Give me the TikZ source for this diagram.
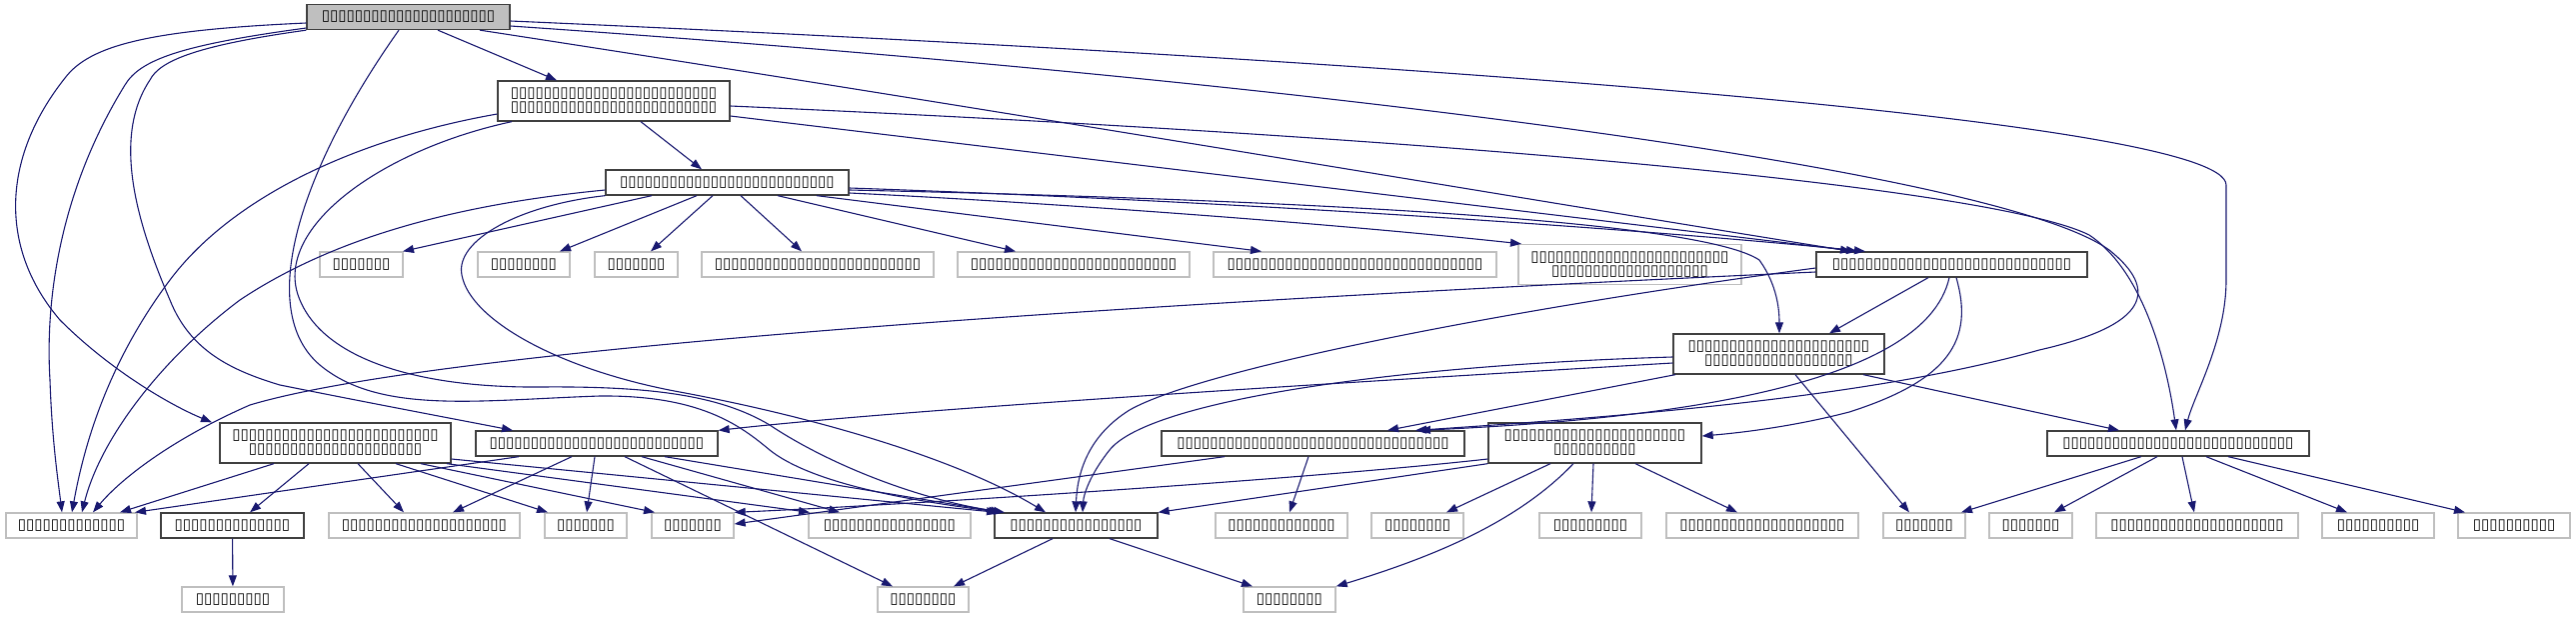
\documentclass[tikz,border=0pt]{standalone}
\usepackage{fontspec}
\newfontfamily\tofu{DejaVu Sans}
\usetikzlibrary{arrows.meta}
\definecolor{edgeblue}{HTML}{191970}
\definecolor{boxgray}{HTML}{404040}
\definecolor{leafgray}{HTML}{BFBFBF}
\definecolor{rootgray}{HTML}{BFBFBF}
\begin{document}
\begin{tikzpicture}[x=1pt,y=-1pt,
    hdr/.style={draw=boxgray,line width=1.3pt,fill=white,inner sep=0pt,minimum height=25pt,
        align=center,font=\tofu\fontsize{15}{14}\selectfont},
    hdr2/.style={hdr,minimum height=40pt},
    sys/.style={hdr,draw=leafgray},
    sys2/.style={hdr2,draw=leafgray},
    focus/.style={hdr,fill=rootgray},
    inc/.style={draw=edgeblue,line width=1.1pt,-{Triangle[length=11pt,width=8pt]}}]
    \useasboundingbox (0,0) rectangle (2577,619);

    % headers
    \node[focus,minimum width=203pt] (main) at (408.5,17) {▯▯▯▯▯▯▯▯▯▯▯▯▯▯▯▯▯▯▯▯▯};
    \node[hdr2,minimum width=232pt] (hA) at (614,101) {▯▯▯▯▯▯▯▯▯▯▯▯▯▯▯▯▯▯▯▯▯▯▯▯▯\\▯▯▯▯▯▯▯▯▯▯▯▯▯▯▯▯▯▯▯▯▯▯▯▯▯};
    \node[hdr,minimum width=243pt] (hB) at (727.5,182.5) {▯▯▯▯▯▯▯▯▯▯▯▯▯▯▯▯▯▯▯▯▯▯▯▯▯▯};
    \node[hdr,minimum width=271pt] (hC) at (1952.5,264.5) {▯▯▯▯▯▯▯▯▯▯▯▯▯▯▯▯▯▯▯▯▯▯▯▯▯▯▯▯▯};
    \node[hdr2,minimum width=211pt] (hD) at (1779.5,354) {▯▯▯▯▯▯▯▯▯▯▯▯▯▯▯▯▯▯▯▯▯▯\\▯▯▯▯▯▯▯▯▯▯▯▯▯▯▯▯▯▯};
    \node[hdr2,minimum width=231pt] (hE) at (335.5,443) {▯▯▯▯▯▯▯▯▯▯▯▯▯▯▯▯▯▯▯▯▯▯▯▯▯\\▯▯▯▯▯▯▯▯▯▯▯▯▯▯▯▯▯▯▯▯▯};
    \node[hdr,minimum width=242pt] (hF) at (597,443.5) {▯▯▯▯▯▯▯▯▯▯▯▯▯▯▯▯▯▯▯▯▯▯▯▯▯▯};
    \node[hdr,minimum width=303pt] (hG) at (1313.5,443.5) {▯▯▯▯▯▯▯▯▯▯▯▯▯▯▯▯▯▯▯▯▯▯▯▯▯▯▯▯▯▯▯▯▯};
    \node[hdr2,minimum width=213pt] (hH) at (1595.5,443) {▯▯▯▯▯▯▯▯▯▯▯▯▯▯▯▯▯▯▯▯▯▯\\▯▯▯▯▯▯▯▯▯▯};
    \node[hdr,minimum width=262pt] (hI) at (2179,443.5) {▯▯▯▯▯▯▯▯▯▯▯▯▯▯▯▯▯▯▯▯▯▯▯▯▯▯▯▯};
    \node[hdr,minimum width=143pt] (hJ) at (232.5,525.5) {▯▯▯▯▯▯▯▯▯▯▯▯▯▯};
    \node[hdr,minimum width=163pt] (hK) at (1076.5,525.5) {▯▯▯▯▯▯▯▯▯▯▯▯▯▯▯▯};

    % system headers
    \node[sys,minimum width=83pt] (s1) at (361.5,264.5) {▯▯▯▯▯▯▯};
    \node[sys,minimum width=92pt] (s2) at (524,264.5) {▯▯▯▯▯▯▯▯};
    \node[sys,minimum width=83pt] (s3) at (636.5,264.5) {▯▯▯▯▯▯▯};
    \node[sys,minimum width=232pt] (s4) at (818,264.5) {▯▯▯▯▯▯▯▯▯▯▯▯▯▯▯▯▯▯▯▯▯▯▯▯▯};
    \node[sys,minimum width=232pt] (s5) at (1074,264.5) {▯▯▯▯▯▯▯▯▯▯▯▯▯▯▯▯▯▯▯▯▯▯▯▯▯};
    \node[sys,minimum width=283pt] (s6) at (1355.5,264.5) {▯▯▯▯▯▯▯▯▯▯▯▯▯▯▯▯▯▯▯▯▯▯▯▯▯▯▯▯▯▯▯};
    \node[sys2,minimum width=223pt] (s7) at (1630.5,264.5) {▯▯▯▯▯▯▯▯▯▯▯▯▯▯▯▯▯▯▯▯▯▯▯▯\\▯▯▯▯▯▯▯▯▯▯▯▯▯▯▯▯▯▯▯};
    \node[sys,minimum width=131pt] (r1) at (71.5,525.5) {▯▯▯▯▯▯▯▯▯▯▯▯▯};
    \node[sys,minimum width=191pt] (r3) at (424.5,525.5) {▯▯▯▯▯▯▯▯▯▯▯▯▯▯▯▯▯▯▯▯};
    \node[sys,minimum width=82pt] (r4) at (586,525.5) {▯▯▯▯▯▯▯};
    \node[sys,minimum width=82pt] (r5) at (693,525.5) {▯▯▯▯▯▯▯};
    \node[sys,minimum width=162pt] (r6) at (890,525.5) {▯▯▯▯▯▯▯▯▯▯▯▯▯▯▯▯};
    \node[sys,minimum width=132pt] (r8) at (1282,525.5) {▯▯▯▯▯▯▯▯▯▯▯▯▯};
    \node[sys,minimum width=92pt] (r9) at (1418,525.5) {▯▯▯▯▯▯▯▯};
    \node[sys,minimum width=102pt] (r10) at (1591,525.5) {▯▯▯▯▯▯▯▯▯};
    \node[sys,minimum width=192pt] (r11) at (1763,525.5) {▯▯▯▯▯▯▯▯▯▯▯▯▯▯▯▯▯▯▯▯};
    \node[sys,minimum width=82pt] (r12) at (1925,525.5) {▯▯▯▯▯▯▯};
    \node[sys,minimum width=83pt] (r13) at (2031.5,525.5) {▯▯▯▯▯▯▯};
    \node[sys,minimum width=202pt] (r14) at (2198,525.5) {▯▯▯▯▯▯▯▯▯▯▯▯▯▯▯▯▯▯▯▯▯};
    \node[sys,minimum width=112pt] (r15) at (2379,525.5) {▯▯▯▯▯▯▯▯▯▯};
    \node[sys,minimum width=112pt] (r16) at (2515,525.5) {▯▯▯▯▯▯▯▯▯▯};
    \node[sys,minimum width=102pt] (t1) at (233,599.5) {▯▯▯▯▯▯▯▯▯};
    \node[sys,minimum width=91pt] (t2) at (923.5,599.5) {▯▯▯▯▯▯▯▯};
    \node[sys,minimum width=92pt] (t3) at (1290,599.5) {▯▯▯▯▯▯▯▯};

    % from the file itself
    \draw[inc] (main.south -| 438,0) -- (hA.north -| 557,0);
    \draw[inc] (main.south -| 480,0) .. controls (1000,110) and (1500,195) .. (hC.north -| 1852,0);
    \draw[inc] (main.east |- 0,21) .. controls (1400,60) and (2227,120) .. (2227,185) -- (2227,280)
        .. controls (2227,340) and (2195,395) .. (hI.north -| 2186,0);
    \draw[inc] (main.east |- 0,26) .. controls (1300,80) and (2000,170) .. (2110,250)
        .. controls (2160,290) and (2150,325) .. (2040,350) .. controls (1880,395) and (1650,415) .. (hG.north -| 1416,0);
    \draw[inc] (main.south -| 399,0) .. controls (300,170) and (255,310) .. (320,365)
        .. controls (380,415) and (480,400) .. (600,396) .. controls (700,395) and (740,425) .. (770,450)
        .. controls (820,490) and (950,505) .. (hK.north -| 1000,0);
    \draw[inc] (main.west |- 0,23) .. controls (150,30) and (90,45) .. (65,78)
        .. controls (0,160) and (0,250) .. (60,320) .. controls (110,370) and (170,405) .. (hE.north -| 212,0);
    \draw[inc] (main.west |- 0,28) .. controls (180,45) and (140,60) .. (125,85)
        .. controls (60,190) and (45,300) .. (50,380) .. controls (52,440) and (58,480) .. (r1.north -| 62,0);
    \draw[inc] (main.south west) .. controls (200,45) and (160,60) .. (150,80)
        .. controls (110,140) and (140,230) .. (170,300) .. controls (190,350) and (230,370) .. (280,385)
        .. controls (380,405) and (460,420) .. (hF.north -| 513,0);

    % first header
    \draw[inc] (hA.south -| 641,0) -- (hB.north -| 702,0);
    \draw[inc] (hA.west |- 0,114) .. controls (350,140) and (230,200) .. (170,280)
        .. controls (110,360) and (85,440) .. (r1.north -| 72,0);
    \draw[inc] (hA.south -| 512,0) .. controls (380,150) and (270,230) .. (300,300)
        .. controls (325,360) and (420,388) .. (540,387) .. controls (650,386) and (720,395) .. (770,425)
        .. controls (830,465) and (920,500) .. (hK.north -| 1005,0);
    \draw[inc] (hA.east |- 0,116) -- (hC.north -| 1858,0);
    \draw[inc] (hA.east |- 0,106) .. controls (1500,140) and (2000,190) .. (2090,235)
        .. controls (2150,275) and (2170,380) .. (hI.north -| 2177,0);

    % second header
    \draw[inc] (hB.south -| 652,0) -- (s1.north -| 403,0);
    \draw[inc] (hB.south -| 697,0) -- (s2.north -| 560,0);
    \draw[inc] (hB.south -| 713,0) -- (s3.north -| 651,0);
    \draw[inc] (hB.south -| 741,0) -- (s4.north -| 802,0);
    \draw[inc] (hB.south -| 778,0) -- (s5.north -| 1016,0);
    \draw[inc] (hB.south -| 817,0) -- (s6.north -| 1262,0);
    \draw[inc] (hB.east |- 0,193) .. controls (1000,200) and (1300,220) .. (s7.north -| 1522,0);
    \draw[inc] (hB.east |- 0,188) .. controls (1200,200) and (1600,225) .. (hC.north -| 1866,0);
    \draw[inc] (hB.east |- 0,190) .. controls (1300,200) and (1700,220) .. (1760,260)
        .. controls (1778,285) and (1780,310) .. (hD.north -| 1780,0);
    \draw[inc] (hB.west |- 0,190) .. controls (450,205) and (330,240) .. (240,300)
        .. controls (160,360) and (100,440) .. (r1.north -| 82,0);
    \draw[inc] (hB.south west) .. controls (520,205) and (455,240) .. (462,275)
        .. controls (470,320) and (560,370) .. (680,392) .. controls (820,418) and (960,460) .. (hK.north -| 1046,0);

    % third header
    \draw[inc] (hC.south -| 1929,0) -- (hD.north -| 1830,0);
    \draw[inc] (hC.south -| 1950,0) .. controls (1925,390) and (1650,420) .. (hG.north -| 1420,0);
    \draw[inc] (hC.south -| 1957,0) .. controls (1975,340) and (1950,380) .. (1850,412)
        .. controls (1800,425) and (1750,432) .. (hH.east |- 0,436);
    \draw[inc] (hC.west |- 0,272) .. controls (1200,300) and (450,345) .. (250,405)
        .. controls (170,440) and (120,480) .. (r1.north -| 93,0);
    \draw[inc] (hC.west |- 0,268) .. controls (1500,310) and (1200,370) .. (1130,410)
        .. controls (1090,435) and (1078,470) .. (hK.north -| 1076,0);

    % fourth header
    \draw[inc] (hD.south -| 1676,0) -- (hG.north -| 1388,0);
    \draw[inc] (hD.west |- 0,363) .. controls (1300,385) and (900,410) .. (hF.north east);
    \draw[inc] (hD.west |- 0,357) .. controls (1400,365) and (1150,400) .. (1110,450)
        .. controls (1090,475) and (1084,495) .. (hK.north -| 1083,0);
    \draw[inc] (hD.south -| 1864,0) -- (hI.north -| 2120,0);
    \draw[inc] (hD.south -| 1796,0) -- (r12.north -| 1910,0);

    \draw[inc] (hE.south -| 274,0) -- (r1.north -| 120,0);
    \draw[inc] (hE.south -| 309,0) -- (hJ.north -| 250,0);
    \draw[inc] (hE.south -| 358,0) -- (r3.north -| 404,0);
    \draw[inc] (hE.south -| 396,0) -- (r4.north -| 548,0);
    \draw[inc] (hE.south -| 421,0) -- (r5.north -| 655,0);
    \draw[inc] (hE.south -| 447,0) -- (r6.north -| 810,0);
    \draw[inc] (hE.east |- 0,459) -- (hK.north -| 998,0);

    \draw[inc] (hF.south -| 519,0) -- (r1.north -| 135,0);
    \draw[inc] (hF.south -| 572,0) -- (r3.north -| 453,0);
    \draw[inc] (hF.south -| 595,0) -- (r4.north -| 587,0);
    \draw[inc] (hF.south -| 625,0) -- (t2.north -| 893,0);
    \draw[inc] (hF.south -| 642,0) -- (r6.north -| 840,0);
    \draw[inc] (hF.south -| 665,0) -- (hK.north -| 1002,0);

    \draw[inc] (hG.south -| 1309,0) -- (r8.north -| 1290,0);
    \draw[inc] (hG.south -| 1225,0) -- (r5.east |- 0,524);

    \draw[inc] (hH.south west) -- (hK.north east);
    \draw[inc] (hH.west |- 0,459) .. controls (1300,480) and (900,505) .. (r5.north east);
    \draw[inc] (hH.south -| 1551,0) -- (r9.north -| 1447,0);
    \draw[inc] (hH.south -| 1574,0) .. controls (1520,520) and (1440,555) .. (t3.north east);
    \draw[inc] (hH.south -| 1594,0) -- (r10.north -| 1592,0);
    \draw[inc] (hH.south -| 1636,0) -- (r11.north -| 1738,0);

    \draw[inc] (hI.south -| 2142,0) -- (r12.north -| 1962,0);
    \draw[inc] (hI.south -| 2158,0) -- (r13.north -| 2055,0);
    \draw[inc] (hI.south -| 2183,0) -- (r14.north -| 2195,0);
    \draw[inc] (hI.south -| 2207,0) -- (r15.north -| 2348,0);
    \draw[inc] (hI.south -| 2229,0) -- (r16.north -| 2466,0);

    \draw[inc] (hJ) -- (t1);
    \draw[inc] (hK.south -| 1053,0) -- (t2.north -| 954,0);
    \draw[inc] (hK.south -| 1110,0) -- (t3.north -| 1253,0);
\end{tikzpicture}
\end{document}
